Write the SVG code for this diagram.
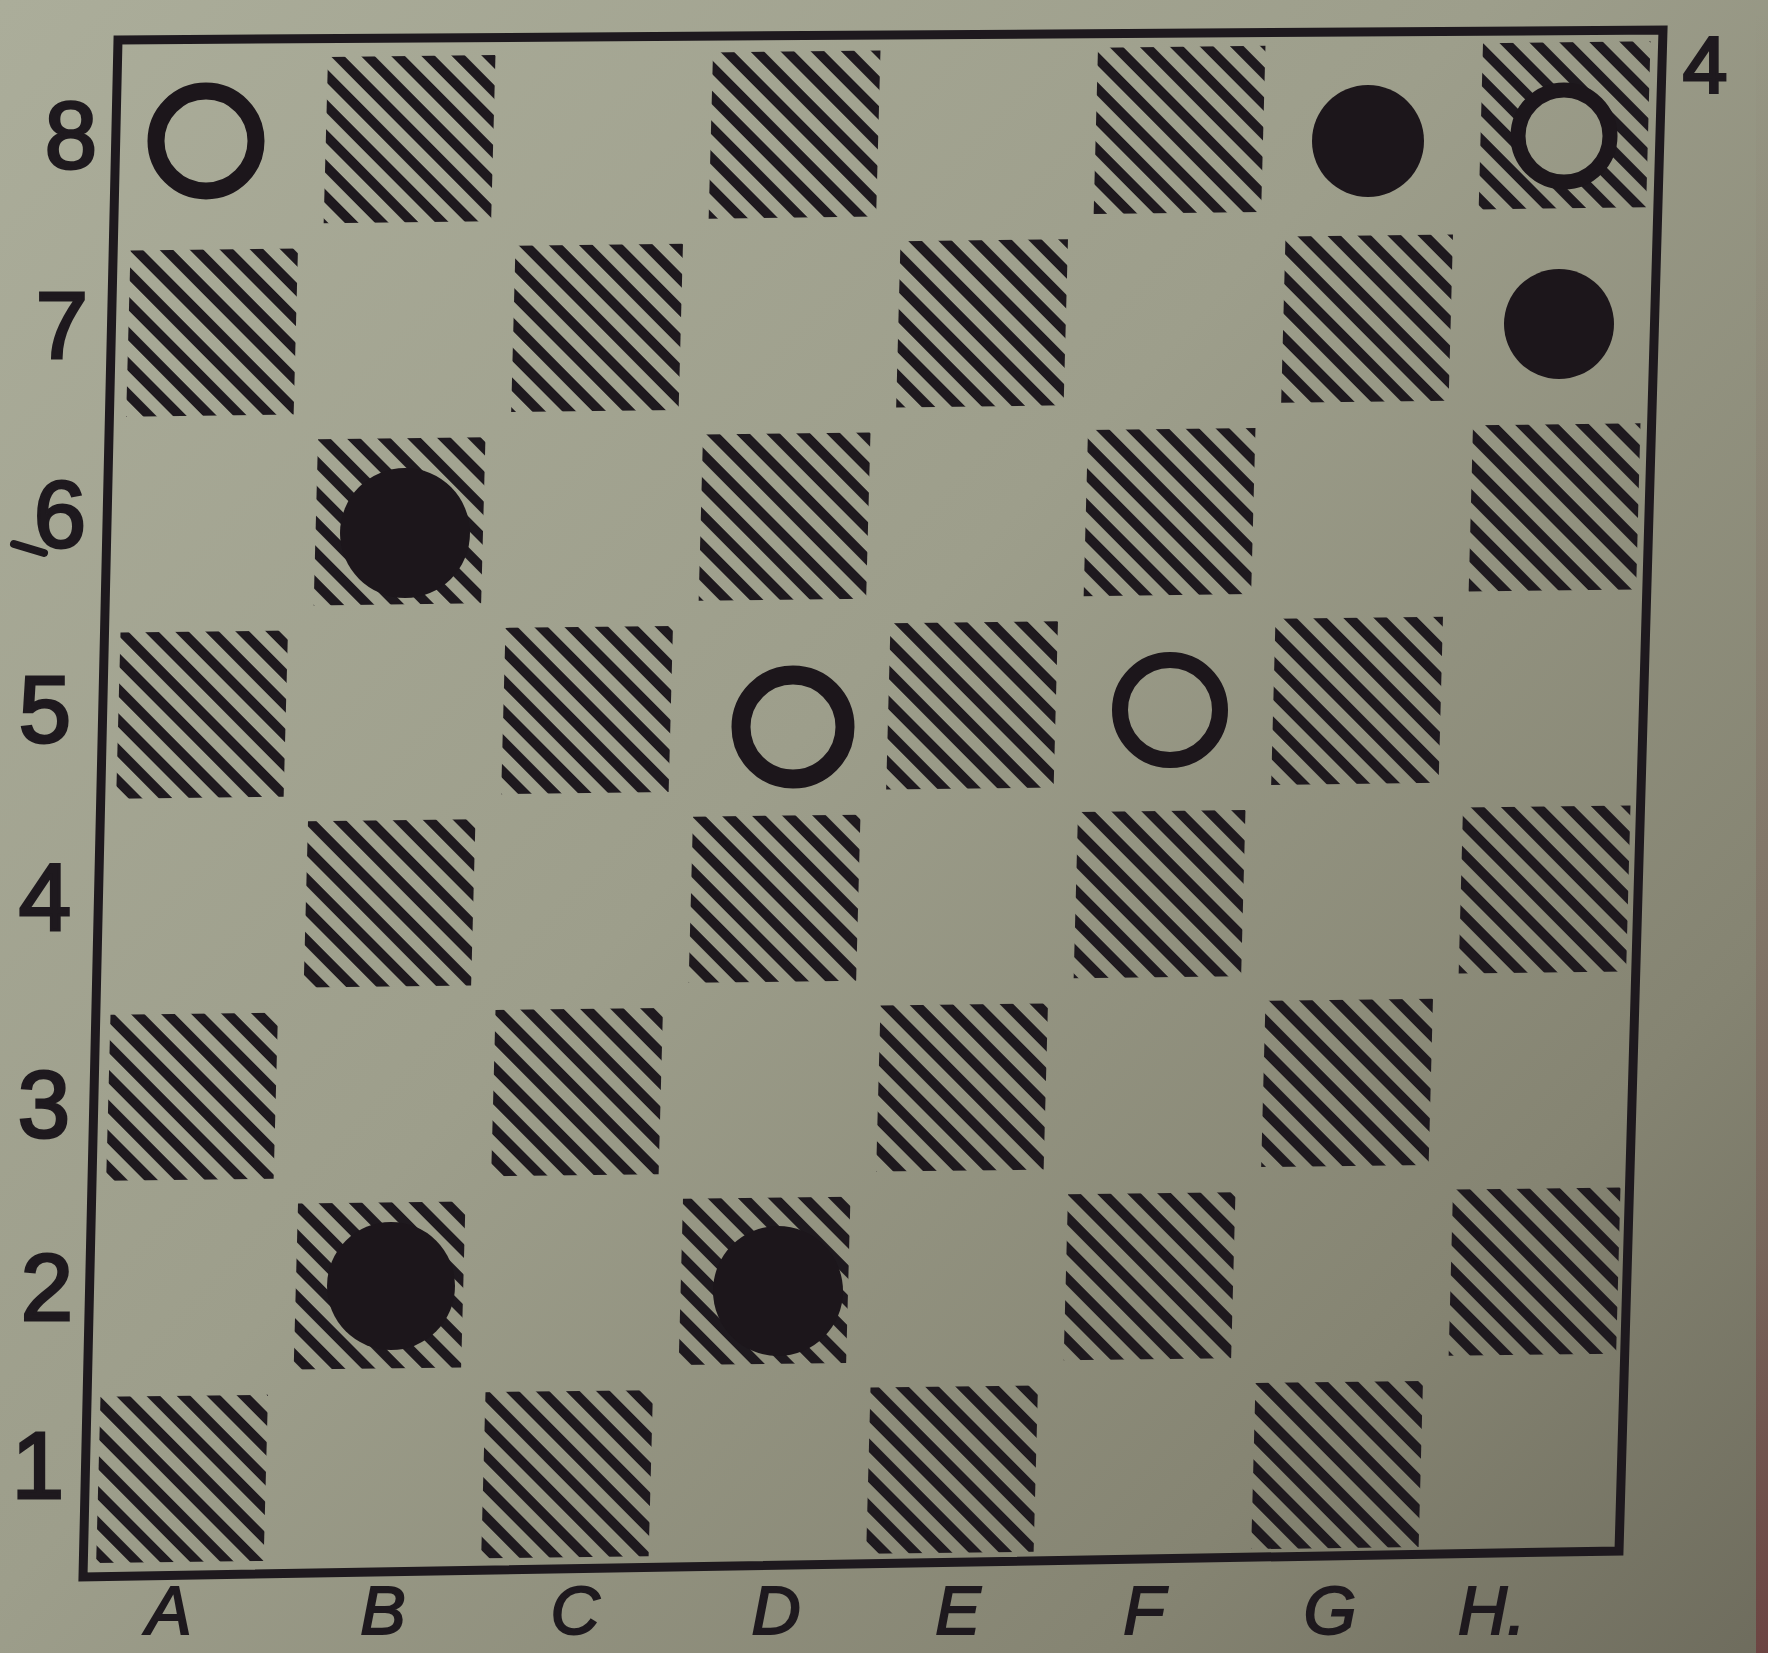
<svg xmlns="http://www.w3.org/2000/svg" width="1768" height="1653" viewBox="0 0 1768 1653">
  <defs>
    <linearGradient id="paper" gradientUnits="userSpaceOnUse" x1="0" y1="0" x2="1768" y2="1653">
      <stop offset="0" stop-color="#abad9a"/>
      <stop offset="0.45" stop-color="#9d9e8b"/>
      <stop offset="0.8" stop-color="#858472"/>
      <stop offset="1" stop-color="#6e6c5d"/>
    </linearGradient>
    <linearGradient id="edge" x1="0" y1="0" x2="0" y2="1">
      <stop offset="0" stop-color="#6b3a3a" stop-opacity="0"/>
      <stop offset="0.75" stop-color="#6b2a30" stop-opacity="0.25"/>
      <stop offset="1" stop-color="#6b2a30" stop-opacity="0.6"/>
    </linearGradient>
    <pattern id="hatch" patternUnits="userSpaceOnUse" width="0.11" height="0.11" patternTransform="rotate(45)">
      <rect x="-0.01" y="0" width="0.13" height="0.05" fill="#1e191e"/>
    </pattern>
  </defs>
  <style>
    .sq{fill:url(#hatch)}
    .lbl{font-family:"Liberation Sans","DejaVu Sans",sans-serif;font-size:94px;fill:#1e191e;stroke:#1e191e;stroke-width:3;text-anchor:middle}
    .file{font-family:"Liberation Sans","DejaVu Sans",sans-serif;font-size:68px;font-style:italic;fill:#1e191e;stroke:#1e191e;stroke-width:2;text-anchor:middle}
    .black{fill:#1c161b}
    .white{fill:url(#paper);stroke:#1c161b}
  </style>

  <rect x="0" y="0" width="1768" height="1653" fill="url(#paper)"/>
  <rect x="1756" y="0" width="12" height="1653" fill="url(#edge)"/>

  <g id="squares" transform="matrix(192.5 -2.3125 -5 191.06 120.5 44.25)">
    <rect class="sq" x="1.08" y="0.08" width="0.87" height="0.87"/>
    <rect class="sq" x="3.08" y="0.08" width="0.87" height="0.87"/>
    <rect class="sq" x="5.08" y="0.08" width="0.87" height="0.87"/>
    <rect class="sq" x="7.08" y="0.08" width="0.87" height="0.87"/>
    <rect class="sq" x="0.08" y="1.08" width="0.87" height="0.87"/>
    <rect class="sq" x="2.08" y="1.08" width="0.87" height="0.87"/>
    <rect class="sq" x="4.08" y="1.08" width="0.87" height="0.87"/>
    <rect class="sq" x="6.08" y="1.08" width="0.87" height="0.87"/>
    <rect class="sq" x="1.08" y="2.08" width="0.87" height="0.87"/>
    <rect class="sq" x="3.08" y="2.08" width="0.87" height="0.87"/>
    <rect class="sq" x="5.08" y="2.08" width="0.87" height="0.87"/>
    <rect class="sq" x="7.08" y="2.08" width="0.87" height="0.87"/>
    <rect class="sq" x="0.08" y="3.08" width="0.87" height="0.87"/>
    <rect class="sq" x="2.08" y="3.08" width="0.87" height="0.87"/>
    <rect class="sq" x="4.08" y="3.08" width="0.87" height="0.87"/>
    <rect class="sq" x="6.08" y="3.08" width="0.87" height="0.87"/>
    <rect class="sq" x="1.08" y="4.08" width="0.87" height="0.87"/>
    <rect class="sq" x="3.08" y="4.08" width="0.87" height="0.87"/>
    <rect class="sq" x="5.08" y="4.08" width="0.87" height="0.87"/>
    <rect class="sq" x="7.08" y="4.08" width="0.87" height="0.87"/>
    <rect class="sq" x="0.08" y="5.08" width="0.87" height="0.87"/>
    <rect class="sq" x="2.08" y="5.08" width="0.87" height="0.87"/>
    <rect class="sq" x="4.08" y="5.08" width="0.87" height="0.87"/>
    <rect class="sq" x="6.08" y="5.08" width="0.87" height="0.87"/>
    <rect class="sq" x="1.08" y="6.08" width="0.87" height="0.87"/>
    <rect class="sq" x="3.08" y="6.08" width="0.87" height="0.87"/>
    <rect class="sq" x="5.08" y="6.08" width="0.87" height="0.87"/>
    <rect class="sq" x="7.08" y="6.08" width="0.87" height="0.87"/>
    <rect class="sq" x="0.08" y="7.08" width="0.87" height="0.87"/>
    <rect class="sq" x="2.08" y="7.08" width="0.87" height="0.87"/>
    <rect class="sq" x="4.08" y="7.08" width="0.87" height="0.87"/>
    <rect class="sq" x="6.08" y="7.08" width="0.87" height="0.87"/>
  </g>

  <g id="frame">
    <polygon points="118,40 1663,30 1619,1551 83,1577" fill="none" stroke="#1e191e" stroke-width="9" stroke-linejoin="miter"/>
  </g>

  <g id="pieces">
    <g id="a8"><circle class="white" cx="206" cy="141" r="50" stroke-width="17"/></g>
    <g id="g8"><circle class="black" cx="1368" cy="141" r="56"/></g>
    <g id="h8"><circle class="white" cx="1564" cy="136" r="46" stroke-width="15"/></g>
    <g id="h7"><circle class="black" cx="1559" cy="324" r="55"/></g>
    <g id="b6"><circle class="black" cx="405" cy="533" r="65"/></g>
    <g id="d5"><circle class="white" cx="793" cy="727" r="52" stroke-width="19"/></g>
    <g id="f5"><circle class="white" cx="1170" cy="710" r="50" stroke-width="16"/></g>
    <g id="b2"><circle class="black" cx="391" cy="1286" r="64"/></g>
    <g id="d2"><circle class="black" cx="778" cy="1291" r="65"/></g>
  </g>

  <g id="ranks">
    <text class="lbl" x="71" y="168">8</text>
    <text class="lbl" x="62" y="358">7</text>
    <text class="lbl" x="60" y="547">6</text>
    <line x1="14" y1="544" x2="44" y2="553" stroke="#1e191e" stroke-width="8" stroke-linecap="round"/>
    <text class="lbl" x="45" y="742">5</text>
    <text class="lbl" x="45" y="930">4</text>
    <text class="lbl" x="44" y="1137">3</text>
    <text class="lbl" x="47" y="1320">2</text>
    <text class="lbl" x="38" y="1498">1</text>
  </g>

  <g id="files">
    <text class="file" x="169" y="1634">A</text>
    <text class="file" x="383" y="1634">B</text>
    <text class="file" x="575" y="1634">C</text>
    <text class="file" x="776" y="1634">D</text>
    <text class="file" x="958" y="1634">E</text>
    <text class="file" x="1144" y="1634">F</text>
    <text class="file" x="1330" y="1634">G</text>
    <text class="file" x="1492" y="1634">H.</text>
  </g>

  <g id="diagram-number">
    <text class="lbl" x="1705" y="92" style="font-size:80px">4</text>
  </g>
</svg>
